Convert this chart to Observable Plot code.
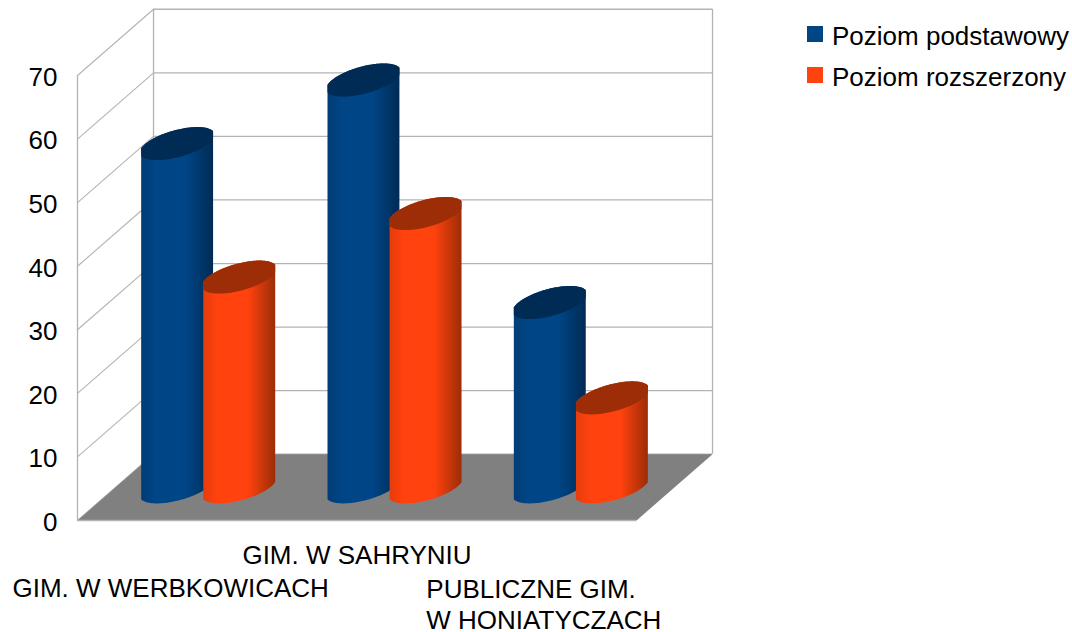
<!DOCTYPE html>
<html><head><meta charset="utf-8">
<style>
html,body{margin:0;padding:0;background:#fff}
#wrap{position:relative;width:1072px;height:632px;overflow:hidden}
#legend{position:absolute;left:807px;top:16px;font:26px/41px "Liberation Sans",Arial,sans-serif;color:#000}
#legend div{position:relative;height:41px;padding-left:25px;white-space:nowrap}
#legend i{position:absolute;left:0;top:10px;width:16px;height:16px}
svg{display:block}
</style>
<script src="https://cdn.jsdelivr.net/npm/d3@7"></script>
<script src="https://cdn.jsdelivr.net/npm/@observablehq/plot@0.6"></script>
</head><body><div id="wrap"><div id="legend"></div></div>
<script>
const categories = ["GIM. W WERBKOWICACH", "GIM. W SAHRYNIU", "PUBLICZNE GIM.\nW HONIATYCZACH"];
const seriesNames = ["Poziom podstawowy", "Poziom rozszerzony"];
const podstawowy = [54, 64, 29];
const rozszerzony = [33, 43, 14];
const valueTicks = [0, 10, 20, 30, 40, 50, 60, 70];
const seriesColors = ["#004586", "#ff420e"];
const sideColors = ["#002b54", "#9c2d06"];
const edgeColors = ["#003d76", "#e63c0c"];

// oblique projection expressed in scale units: one full step of depth
const depthX = 0.408, depthV = 10.42;
const radius = 0.193, bulge = 1.04, ellipseV = 2.6, phase = 1.0;
const yMax = 70;

const arc = d3.range(0, 97).map(i => Math.PI * i / 96);
const upperEdge = t => ellipseV * Math.cos(t - phase);
const lowerEdge = t => ellipseV * Math.cos(t + phase);
const across = t => Math.max(-1, Math.min(1, bulge * Math.cos(t)));

const floor = [
  {x: 0, y: 0}, {x: 3, y: 0},
  {x: 3 + depthX, y: depthV}, {x: depthX, y: depthV}, {x: 0, y: 0}
];

function cylinder(cat, slot, value, s) {
  const cx = cat + (slot + 1) / 3 + depthX / 2;
  const base = depthV / 2;
  const pts = arc.map(t => ({
    x: cx + radius * across(t),
    bottom: base + lowerEdge(t),
    topLow: base + value + lowerEdge(t),
    topHigh: base + value + upperEdge(t)
  }));
  return [
    Plot.areaY(pts, {x: "x", y1: "bottom", y2: "topHigh", fill: `url(#grad${s})`}),
    Plot.areaY(pts, {x: "x", y1: "topLow", y2: "topHigh", fill: sideColors[s]})
  ];
}

const defs = () => {
  const d = d3.create("svg:defs");
  seriesColors.forEach((c, s) => {
    const g = d.append("linearGradient").attr("id", `grad${s}`);
    [[0, edgeColors[s]], [0.2, c], [0.62, c], [1, sideColors[s]]].forEach(([o, k]) =>
      g.append("stop").attr("offset", o).attr("stop-color", k));
  });
  return d.node();
};

const grid = "#b3b3b3";
const font = 26;
const marks = [
  defs,
  Plot.ruleY(valueTicks, {x1: depthX, x2: 3 + depthX, y: d => d + depthV, stroke: grid, strokeWidth: 1.3}),
  Plot.link(valueTicks, {x1: 0, y1: d => d, x2: depthX, y2: d => d + depthV, stroke: grid, strokeWidth: 1.1}),
  Plot.ruleX([0], {y1: 0, y2: yMax, stroke: grid, strokeWidth: 1.3}),
  Plot.ruleX([depthX, 3 + depthX], {y1: depthV, y2: yMax + depthV, stroke: grid, strokeWidth: 1.3}),
  Plot.line(floor, {x: "x", y: "y", stroke: "none", fill: "#808080"}),
  Plot.ruleY([0], {x1: 0, x2: 3, stroke: grid, strokeWidth: 1.3}),
  ...categories.flatMap((c, i) => [
    ...cylinder(i, 0, podstawowy[i], 0),
    ...cylinder(i, 1, rozszerzony[i], 1)
  ]),
  Plot.text(valueTicks, {x: 0, y: d => d, text: d => String(d), textAnchor: "end", dx: -20, dy: 2, fontSize: font, fill: "#000"}),
  Plot.text([categories[0]], {x: [0.5], y: [0], text: d => d, fontSize: font, fill: "#000", lineAnchor: "top", textAnchor: "middle", dy: 58}),
  Plot.text([categories[1]], {x: [1.5], y: [0], text: d => d, fontSize: font, fill: "#000", lineAnchor: "top", textAnchor: "middle", dy: 25}),
  Plot.text([categories[2]], {x: [2.5], y: [0], text: d => d, fontSize: font, fill: "#000", lineAnchor: "top", textAnchor: "start", dx: -117, dy: 56, lineHeight: 1.17})
];

const chart = Plot.plot({
  width: 1072, height: 632,
  marginLeft: 0, marginRight: 0, marginTop: 0, marginBottom: 0,
  style: {fontFamily: '"Liberation Sans",Arial,sans-serif', background: "#fff", overflow: "visible"},
  x: {domain: [0, 3], range: [77, 636], axis: null},
  y: {domain: [0, 70], range: [520, 75], axis: null},
  marks
});
document.getElementById("wrap").prepend(chart);
const lg = document.getElementById("legend");
seriesNames.forEach((n, i) => {
  const row = document.createElement("div");
  row.innerHTML = `<i style="background:${seriesColors[i]}"></i><span>${n}</span>`;
  lg.append(row);
});
</script></body></html>
